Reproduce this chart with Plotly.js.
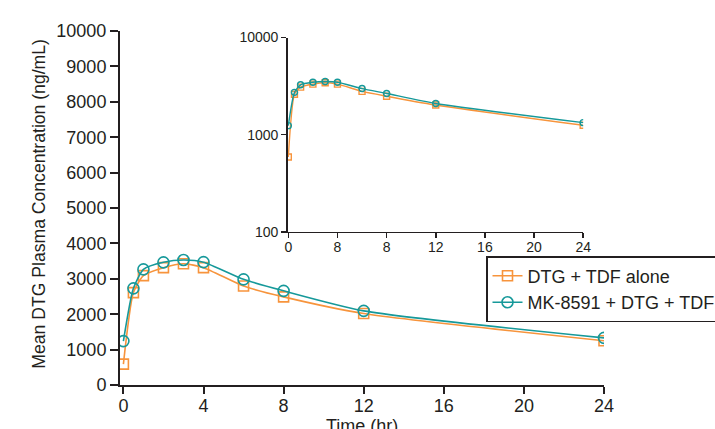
<!DOCTYPE html>
<html>
<head>
<meta charset="utf-8">
<script src="https://cdn.plot.ly/plotly-3.0.1.min.js"></script>
<style>html,body{margin:0;padding:0;background:#fff;}#chart{width:715px;height:429px;}</style>
</head>
<body>
<div id="chart"></div>
<script>
// Data
var timeHr = [0, 0.5, 1, 2, 3, 4, 6, 8, 12, 24];
var dtgTdfAlone = [590, 2610, 3090, 3315, 3425, 3315, 2795, 2490, 2020, 1250];
var mkDtgTdf = [1240, 2730, 3265, 3465, 3530, 3470, 2985, 2660, 2095, 1330];
var seriesNames = ['DTG + TDF alone', 'MK-8591 + DTG + TDF'];
var mainXTicks = [0, 4, 8, 12, 16, 20, 24];
var mainYTicks = [0, 1000, 2000, 3000, 4000, 5000, 6000, 7000, 8000, 9000, 10000];
var mainYTickText = ['0', '1000', '2000', '3000', '4000', '5000', '6000', '7000', '8000', '9000', '10000'];
var insetXTicks = [0, 4, 8, 12, 16, 20, 24];
var insetXTickText = ['0', '8', '8', '12', '16', '20', '24'];
var insetYTicks = [100, 1000, 10000];
var insetYTickText = ['100', '1000', '10000'];
var xTitle = 'Time (hr)';
var yTitle = 'Mean DTG Plasma Concentration (ng/mL)';

var ORANGE = '#f7943c';
var TEAL = '#16999a';
var AX = '#231f20';
var FONT = 'Liberation Sans, Arial, Helvetica, sans-serif';

var traces = [
  {x: timeHr, y: dtgTdfAlone, name: seriesNames[0], type: 'scatter', mode: 'lines+markers',
   line: {color: ORANGE, width: 1.6, shape: 'spline', smoothing: 0.6},
   marker: {symbol: 'square-open', size: 10, color: ORANGE, line: {width: 1.6}}, xaxis: 'x', yaxis: 'y'},
  {x: timeHr, y: mkDtgTdf, name: seriesNames[1], type: 'scatter', mode: 'lines+markers',
   line: {color: TEAL, width: 1.6, shape: 'spline', smoothing: 0.6},
   marker: {symbol: 'circle-open', size: 11, color: TEAL, line: {width: 1.6}}, xaxis: 'x', yaxis: 'y'},
  {x: timeHr, y: dtgTdfAlone, name: seriesNames[0], type: 'scatter', mode: 'lines+markers', showlegend: false,
   line: {color: ORANGE, width: 1.4, shape: 'spline', smoothing: 0.6},
   marker: {symbol: 'square-open', size: 6, color: ORANGE, line: {width: 1.4}}, xaxis: 'x2', yaxis: 'y2'},
  {x: timeHr, y: mkDtgTdf, name: seriesNames[1], type: 'scatter', mode: 'lines+markers', showlegend: false,
   line: {color: TEAL, width: 1.4, shape: 'spline', smoothing: 0.6},
   marker: {symbol: 'circle-open', size: 6, color: TEAL, line: {width: 1.4}}, xaxis: 'x2', yaxis: 'y2'}
];

var layout = {
  width: 715, height: 429,
  margin: {l: 120, r: 111, t: 31, b: 44, autoexpand: false},
  paper_bgcolor: '#fff', plot_bgcolor: 'rgba(0,0,0,0)',
  font: {family: FONT, color: AX, size: 17},
  showlegend: true,
  legend: {x: (486 - 120) / 484, y: (385 - 256) / 354.3, xanchor: 'left', yanchor: 'top', bgcolor: '#fff',
           bordercolor: AX, borderwidth: 1.5, font: {size: 18, family: FONT, color: AX},
           tracegroupgap: 0, itemwidth: 30},
  xaxis: {domain: [0, 1], range: [-0.17, 24], tickvals: mainXTicks, ticks: 'outside', ticklen: 7, tickwidth: 2,
          tickcolor: AX, showline: true, linecolor: AX, linewidth: 2, showgrid: false, zeroline: false,
          tickfont: {size: 18}, ticklabelstandoff: -4, anchor: 'y'},
  yaxis: {domain: [0, 1], range: [0, 10000], tickvals: mainYTicks, ticktext: mainYTickText,
          ticks: 'outside', ticklen: 8, tickwidth: 2,
          tickcolor: AX, showline: true, linecolor: AX, linewidth: 2, showgrid: false, zeroline: false,
          tickfont: {size: 18}, anchor: 'x'},
  xaxis2: {domain: [0.3465, 0.957], range: [-0.05, 24], tickvals: insetXTicks, ticktext: insetXTickText,
           ticks: 'outside', ticklen: 5, tickwidth: 1.5, tickcolor: AX, showline: true, linecolor: AX, linewidth: 1.5,
           showgrid: false, zeroline: false, tickfont: {size: 14}, ticklabelstandoff: -3, anchor: 'y2'},
  yaxis2: {domain: [0.4327, 0.9814], type: 'log', range: [2, 4], tickvals: insetYTicks, ticktext: insetYTickText,
           ticks: 'outside', ticklen: 5, tickwidth: 1.5, tickcolor: AX, showline: true, linecolor: AX, linewidth: 1.5,
           showgrid: false, zeroline: false, tickfont: {size: 14}, anchor: 'x2'},
  annotations: [
    {text: xTitle, xref: 'paper', yref: 'paper', x: (362 - 120) / 484, y: (385 - 414) / 354.3,
     xanchor: 'center', yanchor: 'top', showarrow: false, font: {size: 18, family: FONT, color: AX}},
    {text: yTitle, xref: 'paper', yref: 'paper', x: (39.5 - 120) / 484, y: (385 - 204) / 354.3,
     xanchor: 'center', yanchor: 'middle', textangle: -90, showarrow: false,
     font: {size: 17.6, family: FONT, color: AX}}
  ]
};

Plotly.newPlot('chart', traces, layout, {displayModeBar: false, staticPlot: true});
</script>
</body>
</html>
